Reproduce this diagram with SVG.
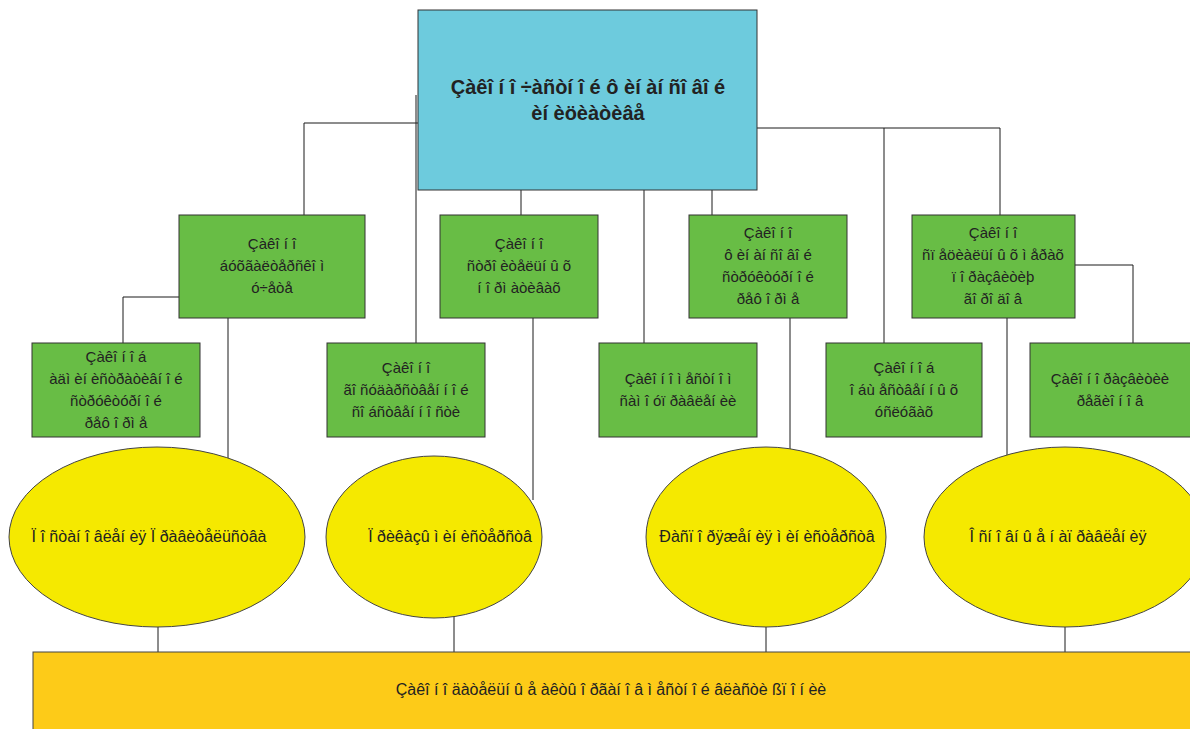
<svg xmlns="http://www.w3.org/2000/svg" width="1190" height="729" viewBox="0 0 1190 729">
<style>
.c{stroke:#1a1a1a;stroke-width:1;fill:none}
.g{fill:#68bd45;stroke:#333;stroke-width:1}
.y{fill:#f5e900;stroke:#444;stroke-width:1}
.t{font-family:"Liberation Sans",Arial,sans-serif;font-size:15px;fill:#222;text-anchor:middle}
.e{font-size:16px}
.b{font-weight:bold;font-size:20px}
</style>
<rect width="1190" height="729" fill="#fff"/>
<g id="connectors">
<path class="c" d="M418 123H304V215"/>
<path class="c" d="M416 95V343"/>
<path class="c" d="M521 190V215"/>
<path class="c" d="M644 190V343"/>
<path class="c" d="M712 190V215"/>
<path class="c" d="M757 128H1000V215"/>
<path class="c" d="M884 128V343"/>
<path class="c" d="M179 297H123V343"/>
<path class="c" d="M228 318V480"/>
<path class="c" d="M533 318V500"/>
<path class="c" d="M790 318V480"/>
<path class="c" d="M1075 265H1133V343"/>
<path class="c" d="M1007 318V480"/>
<path class="c" d="M158 600V652"/>
<path class="c" d="M454 600V652"/>
<path class="c" d="M766 600V652"/>
<path class="c" d="M1065 600V652"/>
</g>
<g id="top">
<rect x="418" y="10" width="339" height="180" fill="#6dcbdd" stroke="#333"/>
<text class="t b" x="588" y="94">Çàêî í î ÷àñòí î é ô èí àí ñî âî é</text>
<text class="t b" x="588" y="120">èí èöèàòèâå</text>
</g>
<g id="n1">
<rect class="g" x="179" y="215" width="186" height="103"/>
<text class="t" x="272" y="249">Çàêî í î</text>
<text class="t" x="272" y="271">áóõãàëòåðñêî ì</text>
<text class="t" x="272" y="293">ó÷åòå</text>
</g>
<g id="n2">
<rect class="g" x="440" y="215" width="158" height="103"/>
<text class="t" x="519" y="249">Çàêî í î</text>
<text class="t" x="519" y="271">ñòðî èòåëüí û õ</text>
<text class="t" x="519" y="293">í î ðì àòèâàõ</text>
</g>
<g id="n3">
<rect class="g" x="689" y="215" width="158" height="103"/>
<text class="t" x="768" y="238">Çàêî í î</text>
<text class="t" x="768" y="260">ô èí àí ñî âî é</text>
<text class="t" x="768" y="282">ñòðóêòóðí î é</text>
<text class="t" x="768" y="304">ðåô î ðì å</text>
</g>
<g id="n4">
<rect class="g" x="912" y="215" width="163" height="103"/>
<text class="t" x="993" y="238">Çàêî í î</text>
<text class="t" x="993" y="260">ñï åöèàëüí û õ ì åðàõ</text>
<text class="t" x="993" y="282">ï î ðàçâèòèþ</text>
<text class="t" x="993" y="304">ãî ðî äî â</text>
</g>
<g id="n5">
<rect class="g" x="32" y="343" width="168" height="94"/>
<text class="t" x="116" y="362">Çàêî í î á</text>
<text class="t" x="116" y="384">àäì èí èñòðàòèâí î é</text>
<text class="t" x="116" y="406">ñòðóêòóðí î é</text>
<text class="t" x="116" y="428">ðåô î ðì å</text>
</g>
<g id="n6">
<rect class="g" x="327" y="343" width="158" height="94"/>
<text class="t" x="406" y="373">Çàêî í î</text>
<text class="t" x="406" y="395">ãî ñóäàðñòâåí í î é</text>
<text class="t" x="406" y="417">ñî áñòâåí í î ñòè</text>
</g>
<g id="n7">
<rect class="g" x="599" y="343" width="158" height="94"/>
<text class="t" x="678" y="384">Çàêî í î ì åñòí î ì</text>
<text class="t" x="678" y="406">ñàì î óï ðàâëåí èè</text>
</g>
<g id="n8">
<rect class="g" x="826" y="343" width="156" height="94"/>
<text class="t" x="904" y="373">Çàêî í î á</text>
<text class="t" x="904" y="395">î áù åñòâåí í û õ</text>
<text class="t" x="904" y="417">óñëóãàõ</text>
</g>
<g id="n9">
<rect class="g" x="1030" y="343" width="162" height="94"/>
<text class="t" x="1110" y="384">Çàêî í î ðàçâèòèè</text>
<text class="t" x="1110" y="406">ðåãèî í î â</text>
</g>
<g id="e1">
<ellipse class="y" cx="157" cy="537" rx="148" ry="90"/>
<text class="t e" x="149" y="542">Ï î ñòàí î âëåí èÿ Ï ðàâèòåëüñòâà</text>
</g>
<g id="e2">
<ellipse class="y" cx="434" cy="537" rx="108" ry="81"/>
<text class="t e" x="450" y="542">Ï ðèêàçû ì èí èñòåðñòâ</text>
</g>
<g id="e3">
<ellipse class="y" cx="766" cy="537" rx="120" ry="90"/>
<text class="t e" x="767" y="542">Ðàñï î ðÿæåí èÿ ì èí èñòåðñòâ</text>
</g>
<g id="e4">
<ellipse class="y" cx="1065" cy="537" rx="141" ry="90"/>
<text class="t e" x="1058" y="542">Î ñí î âí û å í àï ðàâëåí èÿ</text>
</g>
<g id="bottom">
<rect x="33" y="652" width="1170" height="90" fill="#fdcb18" stroke="#444"/>
<text class="t e" x="611" y="695">Çàêî í î äàòåëüí û å àêòû î ðãàí î â ì åñòí î é âëàñòè ßï î í èè</text>
</g>
</svg>
